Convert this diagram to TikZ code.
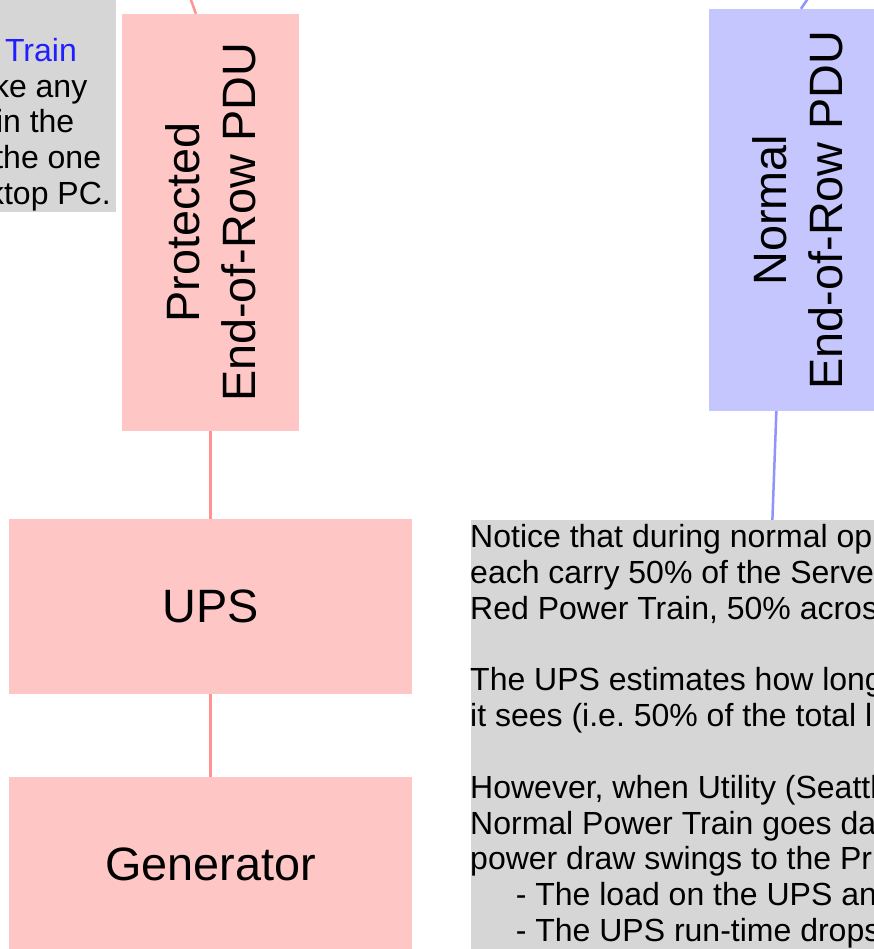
\documentclass[tikz,border=0pt]{standalone}
\usepackage{fontspec}
\setmainfont{Liberation Sans}
\frenchspacing
\definecolor{rosePale}{HTML}{FFC6C6}
\definecolor{roseLien}{HTML}{FF9292}
\definecolor{bleuPale}{HTML}{C6C6FF}
\definecolor{bleuLien}{HTML}{9292FF}
\definecolor{grisNote}{HTML}{D6D6D6}
\definecolor{bleuTexte}{HTML}{2020FF}
\begin{document}
\begin{tikzpicture}[x=1pt, y=-1pt]
	\tikzset{boite/.style={rectangle, inner sep=0pt, align=center, font=\fontsize{46.8}{56}\selectfont},
		boiteRouge/.style={boite, fill=rosePale}, boiteBleue/.style={boite, fill=bleuPale},
		remarque/.style={rectangle, fill=grisNote, inner sep=0pt},
		ligne/.style={inner sep=0pt, font=\fontsize{32}{35.8}\selectfont},
		lienRouge/.style={draw=roseLien, line width=2.5pt}, lienBleu/.style={draw=bleuLien, line width=2.5pt}};
	\useasboundingbox (0,0) rectangle (874,949);

	\node[boiteRouge, rotate=90, minimum width=417, minimum height=177] (ppdu) at (210.5, 222.5) {Protected\\End-of-Row PDU};
	\node[boiteRouge, minimum width=403, minimum height=175] (ups) at (210.5, 606.5) {UPS};
	\node[boiteRouge, minimum width=403, minimum height=175] (gen) at (210.5, 864.5) {Generator};
	\node[boiteBleue, rotate=90, minimum width=402, minimum height=177] (npdu) at (797.5, 210) {Normal\\End-of-Row PDU};

	\coordinate (srcRouge) at (186, -14);
	\coordinate (srcBleue) at (815, -12);
	\coordinate (dstBleue) at (768, 640);

	\draw[lienRouge] (ppdu.4) -- (srcRouge);
	\draw[lienRouge] (ppdu) -- (ups);
	\draw[lienRouge] (ups) -- (gen);
	\draw[lienBleu] (npdu.-1.6) -- (srcBleue);
	\draw[lienBleu] (npdu.174) -- (dstBleue);

	% remarques
	\node[remarque, minimum width=126, minimum height=222] (remG) at (52.8, 100.8) {};
	\node[ligne, anchor=base east, text=bleuTexte] (g1) at (77, 61.7) {Train};
	\node[ligne, anchor=base east] (g2) at (87.5, 97.3) {ke any};
	\node[ligne, anchor=base east] (g3) at (74.5, 132.9) {in the};
	\node[ligne, anchor=base east] (g4) at (101.3, 168.5) {the one};
	\node[ligne, anchor=base east] (g5) at (111, 204.1) {ktop PC.};

	\node[remarque, minimum width=430, minimum height=440] (remD) at (686, 740) {};
	\node[ligne, anchor=base west] (d1) at (470, 547.7) {Notice that during normal op};
	\node[ligne, anchor=base west] (d2) at (470, 583.5) {each carry 50\% of the Serve};
	\node[ligne, anchor=base west] (d3) at (470, 619.3) {Red Power Train, 50\% acros};
	\node[ligne, anchor=base west] (d5) at (470, 690.9) {The UPS estimates how long};
	\node[ligne, anchor=base west] (d6) at (470, 726.7) {it sees (i.e. 50\% of the total l};
	\node[ligne, anchor=base west] (d8) at (470, 798.3) {However, when Utility (Seattl};
	\node[ligne, anchor=base west] (d9) at (470, 834.1) {Normal Power Train goes da};
	\node[ligne, anchor=base west] (d10) at (470, 869.9) {power draw swings to the Pr};
	\node[ligne, anchor=base west] (d11) at (515.6, 905.7) {- The load on the UPS an};
	\node[ligne, anchor=base west] (d12) at (515.6, 941.5) {- The UPS run-time drops};
\end{tikzpicture}
\end{document}
